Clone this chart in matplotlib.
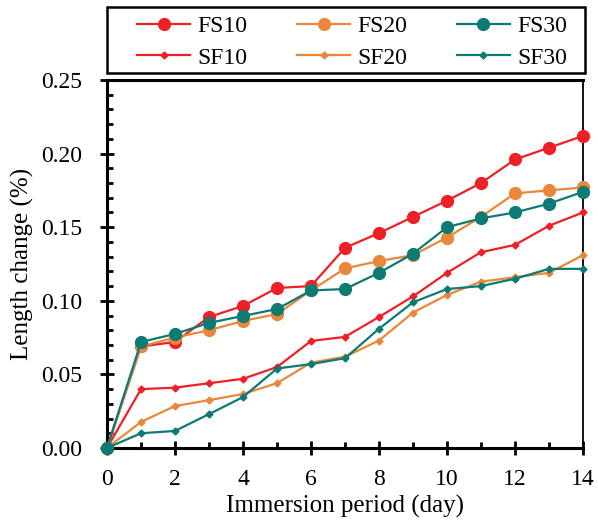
import matplotlib
matplotlib.use("Agg")
import matplotlib.pyplot as plt
from matplotlib.ticker import MultipleLocator, FormatStrFormatter
from matplotlib.patches import Rectangle

plt.rcParams['font.family'] = ['Liberation Serif', 'DejaVu Serif']

days = list(range(15))
FS10 = [0.0, 0.069, 0.072, 0.089, 0.0965, 0.1087, 0.110, 0.136, 0.146, 0.157, 0.168, 0.180, 0.196, 0.204, 0.212]
FS20 = [0.0, 0.069, 0.075, 0.080, 0.0863, 0.091, 0.107, 0.122, 0.127, 0.131, 0.143, 0.157, 0.173, 0.175, 0.177]
FS30 = [0.0, 0.072, 0.0775, 0.085, 0.0897, 0.0944, 0.107, 0.108, 0.119, 0.132, 0.150, 0.156, 0.160, 0.166, 0.174]
SF10 = [0.0, 0.040, 0.041, 0.044, 0.047, 0.055, 0.0727, 0.0755, 0.089, 0.103, 0.119, 0.133, 0.138, 0.151, 0.160]
SF20 = [0.0, 0.0177, 0.0285, 0.0325, 0.0367, 0.044, 0.058, 0.062, 0.073, 0.092, 0.104, 0.113, 0.116, 0.119, 0.131]
SF30 = [0.0, 0.010, 0.0116, 0.023, 0.0346, 0.054, 0.057, 0.061, 0.081, 0.099, 0.108, 0.110, 0.115, 0.1217, 0.1217]

red = '#ee1f25'
orange = '#e9873a'
teal = '#0b7b74'

W, H = 598, 523
fig = plt.figure(figsize=(W/100, H/100), dpi=100)
ax = fig.add_axes([107/W, 1-448/H, (583-107)/W, (448-80)/H])

series = [
    ('FS10', FS10, red, 'o', 8.5),
    ('SF10', SF10, red, 'D', 3.5),
    ('FS20', FS20, orange, 'o', 8.5),
    ('SF20', SF20, orange, 'D', 3.5),
    ('FS30', FS30, teal, 'o', 8.5),
    ('SF30', SF30, teal, 'D', 3.5),
]
handles = []
for name, vals, c, m, ms in series:
    h, = ax.plot(days, vals, color=c, marker=m, markersize=ms, linewidth=1.6,
                 label=name, clip_on=False, zorder=3)
    handles.append(h)

ax.set_xlim(0, 14)
ax.set_ylim(0, 0.25)
ax.xaxis.set_major_locator(MultipleLocator(2))
ax.xaxis.set_minor_locator(MultipleLocator(1))
ax.yaxis.set_major_locator(MultipleLocator(0.05))
ax.yaxis.set_minor_locator(MultipleLocator(0.01))
ax.yaxis.set_major_formatter(FormatStrFormatter('%.2f'))

ax.tick_params(which='both', top=False, right=False, labelsize=17, width=2)
ax.tick_params(which='major', direction='inout', length=10)
ax.tick_params(which='minor', direction='in', length=4.5)
ax.tick_params(axis='x', which='major', pad=10)
ax.tick_params(axis='y', which='major', pad=13)

for s in ['left', 'bottom', 'top']:
    ax.spines[s].set_linewidth(2.2)
ax.spines['right'].set_linewidth(1.3)

ax.set_xlabel('Immersion period (day)', fontsize=18, labelpad=4)
ax.set_ylabel('Length change (%)', fontsize=18, labelpad=5)

# legend frame drawn as a rectangle in figure pixels
fig.patches.append(Rectangle((107/W, 1-73/H), (585-107)/W, 66/H,
                             transform=fig.transFigure, fill=False,
                             edgecolor='black', linewidth=1.8))
leg = fig.legend(handles=handles, loc='center', ncol=3,
                 bbox_to_anchor=(352/W, 1-42/H),
                 fontsize=17, frameon=False, borderaxespad=0,
                 handlelength=2.25, handletextpad=0.3,
                 borderpad=0.0, labelspacing=0.43, columnspacing=2.1)

fig.savefig('out.png', dpi=100)
